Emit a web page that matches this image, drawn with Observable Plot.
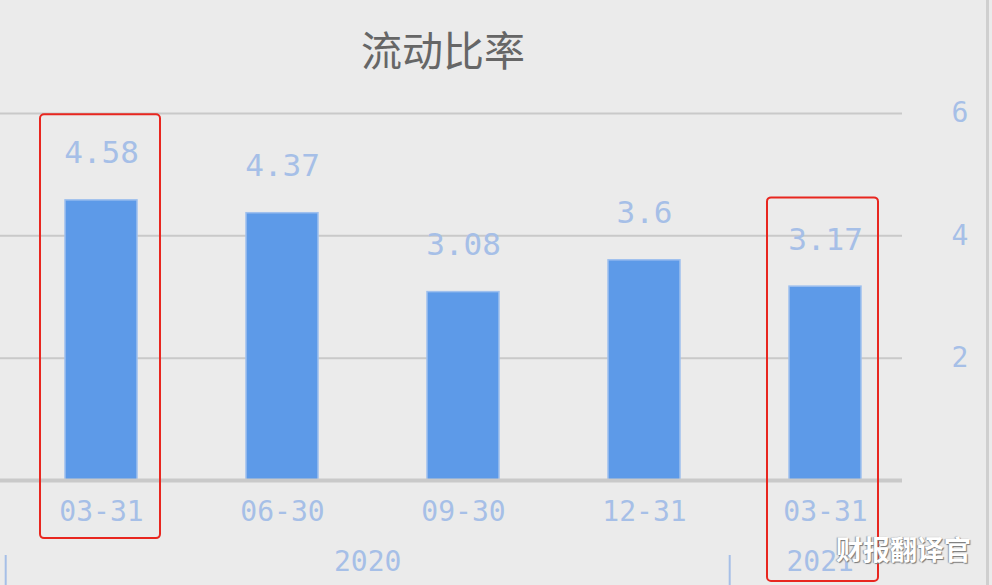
<!DOCTYPE html>
<html>
<head>
<meta charset="utf-8">
<script src="https://cdn.jsdelivr.net/npm/d3@7"></script>
<script src="https://cdn.jsdelivr.net/npm/@observablehq/plot@0.6"></script>
<style>
  html, body { margin: 0; padding: 0; background: #ebebeb; }
  #wrap { position: relative; width: 992px; height: 585px; overflow: hidden; background: #ebebeb; }
  #title { position: absolute; left: 0; top: 23px; width: 886px; text-align: center;
           font-family: "Noto Sans CJK SC", sans-serif; font-size: 41px; color: #666; line-height: 50px; }
  #border { position: absolute; left: 986px; top: 0; width: 3px; height: 585px; background: #cfcfcf; }
  #wm { position: absolute; left: 836px; top: 531px; font-family: "Noto Sans CJK SC", sans-serif;
        font-size: 27px; font-weight: bold; color: #fff; line-height: 36px;
        text-shadow: 1px 1px 1px #777, -1px 0 1px #999; }
  #chart { position: absolute; left: 0; top: 0; }
</style>
</head>
<body>
<div id="wrap">
  <div id="chart"></div>
  <div id="title">流动比率</div>
  <div id="border"></div>
  <div id="wm">财报翻译官</div>
</div>
<script>
// ---- data ----
const periods = ["2020-03-31", "2020-06-30", "2020-09-30", "2020-12-31", "2021-03-31"];
const values = [4.58, 4.37, 3.08, 3.6, 3.17];
const yTicks = [2, 4, 6];
const years = ["2020", "2021"];
const yearFirst = ["2020-03-31", "2021-03-31"];
const yearLast = ["2020-12-31", "2021-03-31"];
const highlighted = ["2020-03-31", "2021-03-31"];
const highlightTop = [5.98, 4.62];
const highlightBottom = [-0.95, -1.65];

const data = periods.map((p, i) => ({period: p, value: values[i]}));
const boxes = highlighted.map((p, i) => ({period: p, top: highlightTop[i], bottom: highlightBottom[i]}));

const blue = "#5d9ae8";
const labelBlue = "#a6bfe7";
const mono = "DejaVu Sans Mono, monospace";
const paddingInner = 0.6;

function yearAxis(index, scales, values, dimensions) {
  const x = scales.x;
  const step = x(periods[1]) - x(periods[0]);
  const bw = step * (1 - paddingInner);
  const g = d3.create("svg:g");
  years.forEach((yr, i) => {
    const start = x(yearFirst[i]) - (step - bw) / 2 - 5;
    const end = x(yearLast[i]) + bw + (step - bw) / 2 - 5;
    g.append("line")
      .attr("x1", start).attr("x2", start)
      .attr("y1", 555).attr("y2", 585)
      .attr("stroke", labelBlue).attr("stroke-width", 2);
    g.append("text")
      .attr("x", (start + end) / 2).attr("y", 561)
      .attr("text-anchor", "middle").attr("dominant-baseline", "central")
      .attr("font-family", mono).attr("font-size", 28)
      .attr("fill", labelBlue)
      .text(yr);
  });
  return g.node();
}

const chart = Plot.plot({
  width: 992,
  height: 585,
  marginLeft: 0,
  marginRight: 90,
  marginTop: 113,
  marginBottom: 105,
  style: {background: "transparent", overflow: "visible"},
  x: {type: "band", domain: periods, paddingInner: paddingInner, paddingOuter: 0.29, align: 0.62, label: null},
  y: {domain: [0, 6], label: null},
  marks: [
    Plot.ruleY(yTicks, {stroke: "#c9c9c9", strokeWidth: 2}),
    Plot.barY(data, {x: "period", y: "value", fill: blue, stroke: "#9fc0ee", strokeWidth: 1.5}),
    Plot.ruleY([0], {stroke: "#c9c9c9", strokeWidth: 4}),
    Plot.text(data, {x: "period", y: "value", text: d => String(d.value), dy: -47,
      fontSize: 31, fontFamily: mono, fill: labelBlue}),
    Plot.axisX({tickSize: 0, tickPadding: 21, fontSize: 28, fontFamily: mono, color: labelBlue,
      tickFormat: d => d.slice(5), label: null}),
    Plot.axisY(yTicks, {anchor: "right", tickSize: 0, tickPadding: 49, fontSize: 28, fontFamily: mono,
      color: labelBlue, label: null, tickFormat: d => String(d)}),
    yearAxis,
    Plot.barY(boxes.slice(0, 1), {x: "period", y1: "bottom", y2: "top", fill: "none", stroke: "#e8261f",
      strokeWidth: 2, rx: 4, insetLeft: -25, insetRight: -23}),
    Plot.barY(boxes.slice(1), {x: "period", y1: "bottom", y2: "top", fill: "none", stroke: "#e8261f",
      strokeWidth: 2, rx: 4, insetLeft: -22, insetRight: -17})
  ]
});
document.getElementById("chart").appendChild(chart);
</script>
</body>
</html>
